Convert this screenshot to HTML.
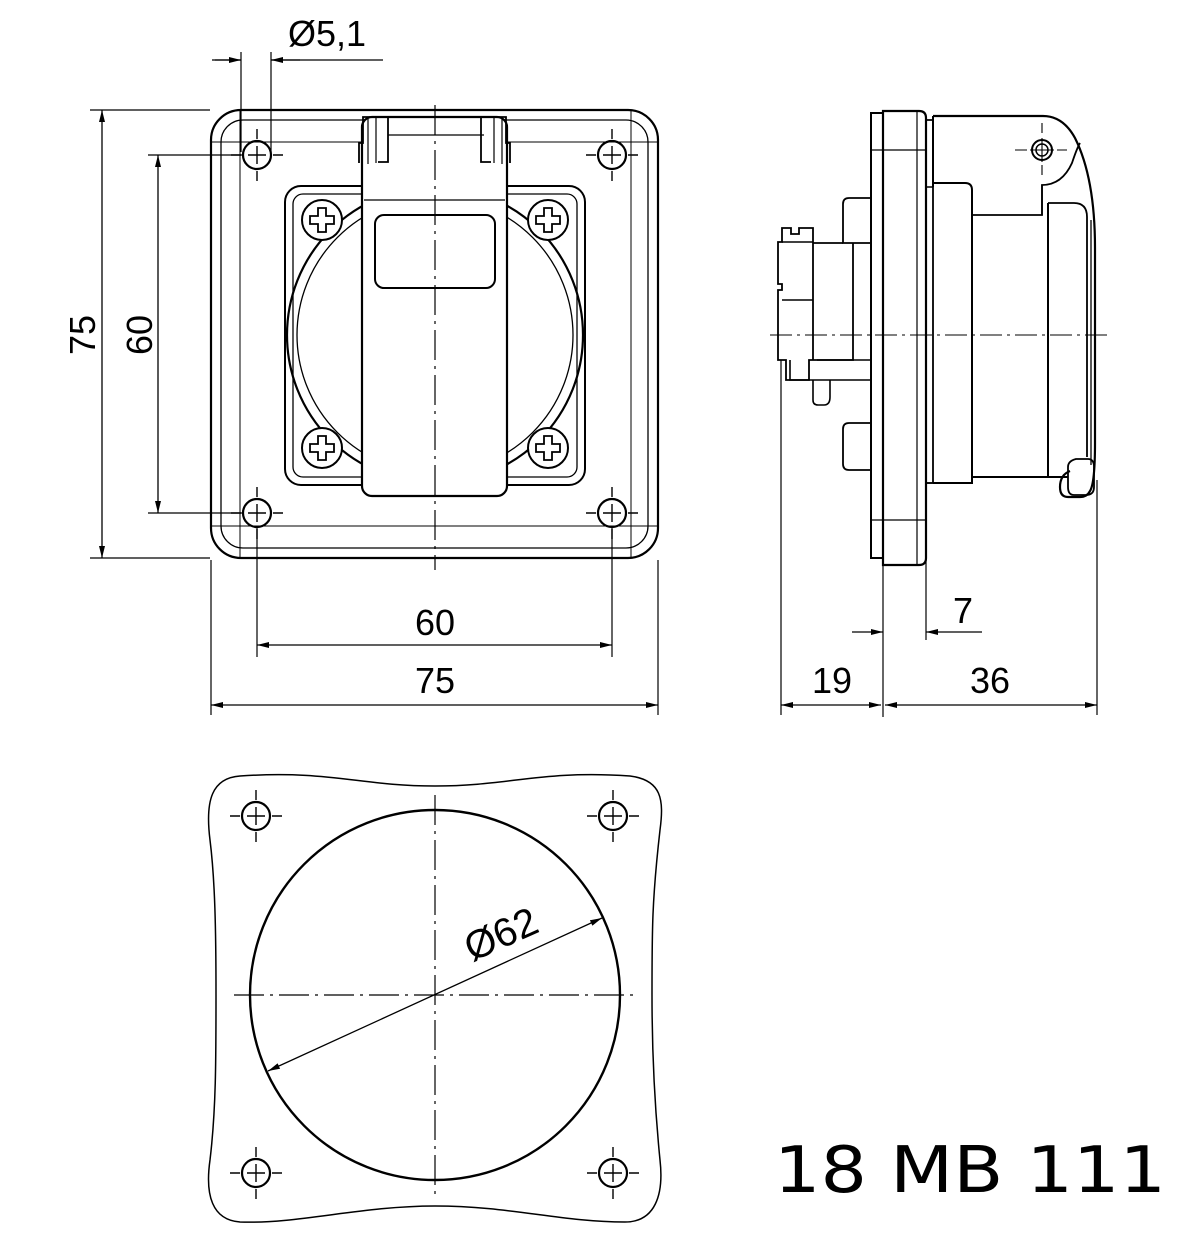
<!DOCTYPE html>
<html><head><meta charset="utf-8"><style>
body{margin:0;background:#fff}
svg{display:block}
text{font-family:"Liberation Sans",sans-serif;fill:#000}
</style></head><body>
<svg width="1200" height="1242" viewBox="0 0 1200 1242" xmlns="http://www.w3.org/2000/svg">
<defs>
<marker id="a" viewBox="0 0 12 6" refX="12" refY="3" markerWidth="12" markerHeight="6" orient="auto-start-reverse" markerUnits="userSpaceOnUse"><path d="M0,0 L12,3 L0,6 z" fill="#000"/></marker>
<g id="hole"><circle r="14" fill="none" stroke="#000" stroke-width="2.2"/><path d="M-26,0h10M-9,0h18M16,0h10M0,-26v10M0,-9v18M0,16v10" stroke="#000" stroke-width="1.4"/></g>
<g id="screw"><circle r="20" fill="#fff" stroke="#000" stroke-width="2"/><path d="M-4,-12h8v8h8v8h-8v8h-8v-8h-8v-8h8z" fill="none" stroke="#000" stroke-width="1.8"/></g>
</defs>
<g fill="none" stroke="#000">
<!-- FRONT VIEW -->
<rect x="211" y="110" width="447" height="448" rx="30" stroke-width="2.2"/>
<rect x="221" y="120" width="427" height="428" rx="22" stroke-width="1.3"/>
<path d="M240,110v448M631,110v448M211,142h447M211,526h447" stroke-width="1"/>
<rect x="285" y="186" width="300" height="299" rx="16" stroke-width="2"/>
<rect x="293" y="194" width="284" height="283" rx="10" stroke-width="1.3"/>
<circle cx="435" cy="335" r="148" stroke-width="2.2"/>
<circle cx="435" cy="335" r="138" stroke-width="1.3"/>
<use href="#screw" x="322" y="220"/><use href="#screw" x="548" y="220"/>
<use href="#screw" x="322" y="448"/><use href="#screw" x="548" y="448"/>
<rect x="362" y="117" width="145" height="379" rx="10" fill="#fff" stroke-width="2.2"/>
<path d="M364,200h141M388,135h96" stroke-width="1.3"/>
<path d="M359,163v-20h4v-26h25v45h-10M510,163v-20h-4v-26h-25v45h10" stroke-width="1.8"/>
<path d="M368,118v46M502,118v46M376,118v45M494,118v45" stroke-width="1.2"/>
<rect x="375" y="215" width="120" height="73" rx="9" stroke-width="2"/>
<use href="#hole" x="257" y="155"/><use href="#hole" x="612" y="155"/>
<use href="#hole" x="257" y="513"/><use href="#hole" x="612" y="513"/>
<path d="M435,105v465" stroke-width="1.2" stroke-dasharray="30,6,3,6"/>
<!-- dims front -->
<path d="M241,52v100M271,52v100M212,60h29M271,60h112" stroke-width="1.2"/>
<path d="M215,60h26" stroke-width="1.2" marker-end="url(#a)"/>
<path d="M300,60h-29" stroke-width="1.2" marker-end="url(#a)"/>
<path d="M90,110h120M90,558h120M148,155h95M148,513h95" stroke-width="1.2"/>
<path d="M102,110V558" stroke-width="1.3" marker-start="url(#a)" marker-end="url(#a)"/>
<path d="M158,155V513" stroke-width="1.3" marker-start="url(#a)" marker-end="url(#a)"/>
<path d="M257,527v130M612,527v130M211,560v155M658,560v155" stroke-width="1.2"/>
<path d="M257,645H612" stroke-width="1.3" marker-start="url(#a)" marker-end="url(#a)"/>
<path d="M211,705H658" stroke-width="1.3" marker-start="url(#a)" marker-end="url(#a)"/>
<!-- SIDE VIEW -->
<rect x="871" y="113" width="12" height="445" stroke-width="2"/>
<path d="M883,111h36q7,0 7,7v440q0,7 -7,7h-36z" stroke-width="2.2"/>
<path d="M871,150h55M871,520h55M917,112v452" stroke-width="1.2"/>
<path d="M926,120h7v363h-7" stroke-width="1.8"/>
<path d="M926,187h7M926,483h7" stroke-width="1.5"/>
<path d="M933,116h110q20,0 32,22q20,40 20,110v195q0,40 -5,48q-3,6 -10,6h-12q-8,0 -8,-10q0,-12 10,-16" stroke-width="2.2"/>
<path d="M933,116v71" stroke-width="2"/>
<path d="M933,183h32q7,0 7,7v293h-39" stroke-width="2"/>
<path d="M972,215h70v-30q20,0 30,-22q5,-15 8,-20" stroke-width="1.8"/>
<path d="M1042,185v30" stroke-width="1.5"/>
<path d="M972,477h76" stroke-width="2"/>
<path d="M1048,203v274h20" stroke-width="2"/>
<path d="M1048,203h26q13,0 13,14v240" stroke-width="1.8"/>
<path d="M1091,220v245" stroke-width="1.3"/>
<path d="M1068,467q0,-6 8,-8h12q6,0 6,8v20q0,8 -8,8h-12q-6,0 -6,-8z" stroke-width="1.8"/>
<circle cx="1042" cy="150" r="10" stroke-width="2"/><circle cx="1042" cy="150" r="6" stroke-width="1.5"/>
<path d="M1015,150h12M1030,150h24M1057,150h10M1042,123v10M1042,138v24M1042,165v10" stroke-width="1.1"/>
<path d="M871,198h-22q-6,0 -6,6v39h28" stroke-width="1.8"/>
<path d="M843,243h-30v-15h-14v6h-8v-6h-9v14h-4v42h4v6h-4v70h8v20h23v-20h4M813,228v132h40v-117" stroke-width="1.8"/>
<path d="M782,242h31M782,300h31M817,360h54v20h-81v-20" stroke-width="1.6"/>
<path d="M813,380v20q0,5 5,5h6q6,0 6,-8v-17" stroke-width="1.6"/>
<path d="M871,423h-22q-6,0 -6,6v35q0,6 6,6h22" stroke-width="1.8"/>
<path d="M770,335h340" stroke-width="1.1" stroke-dasharray="22,5,3,5"/>
<path d="M781,360v355M883,562v155M926,470v170M1097,480v235" stroke-width="1.2"/>
<path d="M781,705H881" stroke-width="1.3" marker-start="url(#a)" marker-end="url(#a)"/>
<path d="M885,705H1097" stroke-width="1.3" marker-start="url(#a)" marker-end="url(#a)"/>
<path d="M852,632H883" stroke-width="1.3" marker-end="url(#a)"/>
<path d="M982,632H926" stroke-width="1.3" marker-end="url(#a)"/>
<!-- BOTTOM CUTOUT -->
<path d="M240,776 C330,770 360,786 435,786 C510,786 540,770 630,776 C662,780 664,800 660,830 C652,900 652,930 652,995 C652,1060 655,1110 660,1160 C664,1195 655,1222 625,1222 C560,1222 510,1206 435,1206 C360,1206 300,1224 240,1222 C212,1220 205,1195 210,1160 C216,1110 216,1060 216,995 C216,930 215,880 210,840 C205,800 212,778 240,776 Z" stroke-width="1.5"/>
<circle cx="435" cy="995" r="185" stroke-width="2.4"/>
<use href="#hole" x="256" y="816"/><use href="#hole" x="613" y="816"/>
<use href="#hole" x="256" y="1173"/><use href="#hole" x="613" y="1173"/>
<path d="M435,795v400M234,995h403" stroke-width="1.2" stroke-dasharray="30,6,3,6"/>
<path d="M268,1071L602,918" stroke-width="1.3" marker-start="url(#a)" marker-end="url(#a)"/>
</g>
<text x="288" y="46" font-size="36">Ø5,1</text>
<text transform="translate(95,335) rotate(-90)" font-size="36" text-anchor="middle">75</text>
<text transform="translate(152,335) rotate(-90)" font-size="36" text-anchor="middle">60</text>
<text x="435" y="635" font-size="36" text-anchor="middle">60</text>
<text x="435" y="693" font-size="36" text-anchor="middle">75</text>
<text x="832" y="693" font-size="36" text-anchor="middle">19</text>
<text x="990" y="693" font-size="36" text-anchor="middle">36</text>
<text x="963" y="623" font-size="36" text-anchor="middle">7</text>
<text transform="translate(472,962) rotate(-24)" font-size="40">Ø62</text>
<text x="774" y="1192" font-size="64" textLength="392" lengthAdjust="spacingAndGlyphs" style="font-family:'DejaVu Sans',sans-serif">18 MB 111</text>
</svg>
</body></html>
